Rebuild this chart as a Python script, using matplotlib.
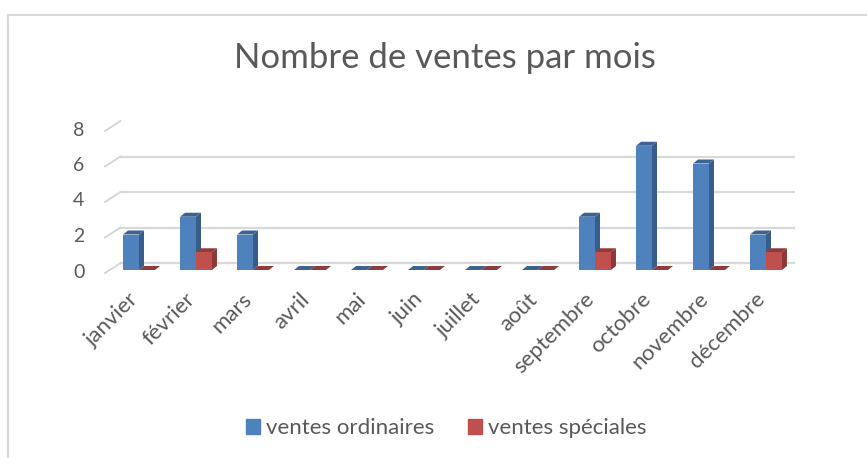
import numpy as np
import matplotlib.pyplot as plt
from matplotlib.patches import Patch
from matplotlib.lines import Line2D
from matplotlib.transforms import ScaledTranslation

plt.rcParams['font.family'] = ['Lato', 'DejaVu Sans']

mois = ["janvier", "février", "mars", "avril", "mai", "juin", "juillet",
        "août", "septembre", "octobre", "novembre", "décembre"]
ordinaires = [2, 3, 2, 0, 0, 0, 0, 0, 3, 7, 6, 2]
speciales = [0, 1, 0, 0, 0, 0, 0, 0, 1, 0, 0, 1]
series = ["ventes ordinaires", "ventes spéciales"]
yticks = [0, 2, 4, 6, 8]

W, H = 867, 458
fig = plt.figure(figsize=(W / 100, H / 100), dpi=100)
ax = fig.add_axes([110.5 / W, 188 / H, 684 / W, 142 / H])
ax.set_xlim(-0.5, 11.5)
ax.set_ylim(0, 8)
ax.axis("off")

grey = "#595959"
grid_c = "#D9D9D9"

# back wall gridlines and floor side edges
back = ax.transData + ScaledTranslation(0.10, 0.07, fig.dpi_scale_trans)
inv = ax.transData.inverted()
for v in yticks:
    ax.plot([-0.5, 11.5], [v, v], color=grid_c, lw=1.6, transform=back, zorder=0)
    p = ax.transData.transform((-0.5, v))
    q = inv.transform(np.array([p + [-5.5, -3], p + [10, 7]]))
    ax.plot(q[:, 0], q[:, 1], color="#D4D4D4", lw=1.3, zorder=0, clip_on=False)
    ax.text(-0.5, v, str(v), transform=ax.transData + ScaledTranslation(-0.26, -0.02, fig.dpi_scale_trans),
            ha="right", va="center", fontsize=14, color=grey)

# 3d-looking columns
bw = 0.28
dx = 5 / 57
dy = 4 / 17.75
x = np.arange(len(mois))
styles = [("#4F81BD", "#385D8A", "#3C6392"), ("#C0504D", "#8C3836", "#913C3A")]
for k, vals in enumerate([ordinaires, speciales]):
    front, side, top = styles[k]
    x0 = x - bw + k * bw
    for xi, h in zip(x0, vals):
        x1 = xi + bw
        ax.fill([x1, x1 + dx, x1 + dx, x1], [0, dy, h + dy, h], color=side, lw=0, zorder=2)
        ax.fill([xi, x1, x1 + dx, xi + dx], [h, h, h + dy, h + dy], color=top, lw=0, zorder=2)
    ax.bar(x0, vals, width=bw, align="edge", color=front, lw=0, zorder=2)

# month labels
for xi, m in zip(x, mois):
    ax.text(xi, 0, m, transform=ax.transData + ScaledTranslation(-0.11, -0.19, fig.dpi_scale_trans),
            rotation=45, rotation_mode="anchor", ha="right", va="top",
            fontsize=16, color=grey)

fig.text(445 / W, 1 - 58 / H, "Nombre de ventes par mois", ha="center", va="center",
         fontsize=25, color=grey)

handles = [Patch(color=styles[0][0]), Patch(color=styles[1][0])]
fig.legend(handles, series, loc="center", bbox_to_anchor=(446 / W, 1 - 428 / H),
           ncol=2, frameon=False, fontsize=16, labelcolor=grey,
           handlelength=0.65, handleheight=0.65, handletextpad=0.25, columnspacing=1.5)

# chart frame
fig.add_artist(Line2D([8 / W, 1], [1 - 15 / H, 1 - 15 / H], color=grid_c, lw=1.5))
fig.add_artist(Line2D([8 / W, 8 / W], [0, 1 - 15 / H], color=grid_c, lw=1.5))

fig.savefig("out.png", dpi=100)
